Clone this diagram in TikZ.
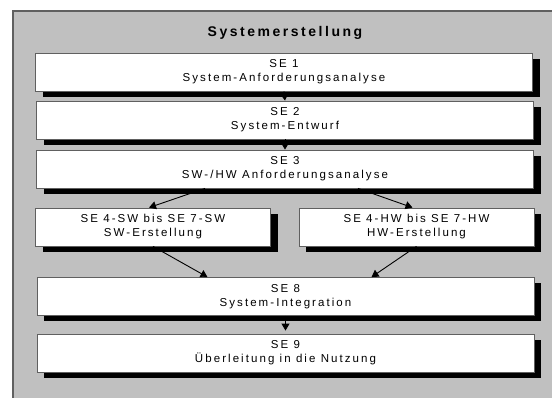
\documentclass[tikz,border=0pt]{standalone}
\usepackage{fontspec}
\setmainfont{Liberation Sans}[LetterSpace=18]
\usepackage{xcolor}
\usetikzlibrary{arrows.meta,shadows,calc}

\definecolor{panelgray}{HTML}{C0C0C0}
\definecolor{framegray}{HTML}{606060}

\tikzset{
  phase/.style={draw=framegray, line width=0.8pt, fill=white,
    minimum width=497pt, minimum height=38pt, inner sep=0pt,
    align=center, font=\fontsize{11.5}{14}\selectfont,
    drop shadow={shadow xshift=7pt, shadow yshift=-6pt, fill=black, opacity=1}},
  halfphase/.style={phase, minimum width=235pt},
  flow/.style={-{Triangle[length=7pt,width=8pt]}, line width=0.9pt}
}

\begin{document}
\begin{tikzpicture}[x=1pt, y=-1pt]
  \useasboundingbox (0,0) rectangle (552,398);

  % Panel
  \draw[draw=framegray, line width=1.2pt, fill=panelgray] (13,11) rectangle (560,405);
  \node (title) at (285,33) {\bfseries\fontsize{14}{16}\selectfont Systemerstellung};

  % Phases
  \node[phase] (se1) at (284,72) {SE 1\\System-Anforderungsanalyse};
  \node[phase] (se2) at (285,120) {SE 2\\System-Entwurf};
  \node[phase] (se3) at (285,169) {SE 3\\SW-/HW Anforderungsanalyse};
  \node[halfphase] (sw) at (153,227) {SE 4-SW bis SE 7-SW\\SW-Erstellung};
  \node[halfphase] (hw) at (416.5,227) {SE 4-HW bis SE 7-HW\\HW-Erstellung};
  \node[phase] (se8) at (285.5,296.5) {SE 8\\System-Integration};
  \node[phase] (se9) at (285.5,353) {SE 9\\Überleitung in die Nutzung};

  % Arrows
  \draw[flow] (se1.south) -- (se2.north);
  \draw[flow] (se2.south) -- (se3.north);
  \draw[flow] ([xshift=-80pt]se3.south) -- ([xshift=-4pt]sw.north);
  \draw[flow] ([xshift=73pt]se3.south) -- ([xshift=-4pt]hw.north);
  \draw[flow] (sw.south) -- ([xshift=-78pt]se8.north);
  \draw[flow] (hw.south) -- ([xshift=86pt]se8.north);
  \draw[flow] (se8.south) -- ([yshift=3pt]se9.north);
\end{tikzpicture}
\end{document}
